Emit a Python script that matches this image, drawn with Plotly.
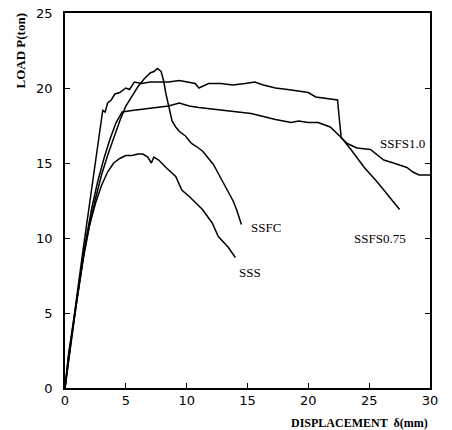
import plotly.graph_objects as go

# SSS
sss_x = [0, 0.3, 0.7, 1.2, 1.6, 2.0, 2.5, 3.0, 3.5, 4.0, 4.5, 5.0, 5.5, 6.0, 6.4, 6.8, 7.1, 7.3, 7.7, 8.3, 9.1, 9.6, 10.3, 11.3, 12.1, 12.6, 13.4, 14.0]
sss_y = [0, 2.2, 4.3, 7.0, 9.2, 10.8, 12.3, 13.5, 14.4, 15.0, 15.3, 15.5, 15.5, 15.6, 15.6, 15.4, 15.0, 15.4, 15.2, 14.7, 14.1, 13.2, 12.7, 11.9, 11.0, 10.1, 9.4, 8.7]

# SSFC
ssfc_x = [0, 0.5, 1.0, 1.5, 2.0, 2.5, 3.0, 3.5, 4.0, 4.5, 5.0, 5.5, 6.0, 6.5, 7.0, 7.3, 7.6, 7.9, 8.1, 8.3, 8.6, 8.8, 9.1, 9.4, 9.9, 10.4, 10.8, 11.3, 11.8, 12.2, 12.6, 13.0, 13.4, 13.8, 14.1, 14.5]
ssfc_y = [0, 3.0, 6.0, 8.6, 10.8, 12.6, 14.2, 15.5, 16.7, 17.8, 18.8, 19.5, 20.1, 20.6, 21.0, 21.1, 21.3, 21.1, 20.5, 19.6, 18.5, 17.8, 17.4, 17.1, 16.8, 16.3, 16.1, 15.8, 15.3, 14.9, 14.3, 13.7, 13.0, 12.5, 11.9, 10.9]

# SSFS0.75
s075_x = [0, 0.3, 0.7, 1.2, 1.7, 2.2, 2.7, 3.2, 3.7, 4.2, 4.7, 5.5, 6.5, 7.7, 8.5, 9.4, 10.2, 11.0, 12.0, 13.2, 14.3, 15.3, 16.3, 17.3, 18.6, 19.2, 20.0, 20.8, 21.8, 22.7, 23.5, 24.6, 25.7, 26.7, 27.5]
s075_y = [0, 2.3, 4.5, 7.3, 9.8, 12.0, 13.8, 15.3, 16.6, 17.7, 18.4, 18.5, 18.6, 18.7, 18.8, 19.0, 18.8, 18.7, 18.6, 18.5, 18.4, 18.3, 18.1, 17.9, 17.7, 17.8, 17.7, 17.7, 17.4, 16.7, 15.9, 14.7, 13.7, 12.7, 11.9]

# SSFS1.0
s10_x = [0, 0.3, 0.6, 1.0, 1.5, 2.0, 2.5, 3.0, 3.1, 3.3, 3.5, 3.8, 4.1, 4.5, 5.0, 5.3, 5.7, 6.3, 7.0, 7.7, 8.5, 9.4, 10.2, 10.7, 11.0, 11.8, 12.8, 13.8, 14.8, 15.6, 16.3, 17.3, 18.3, 19.1, 20.0, 20.6, 21.5, 22.4, 22.6, 22.7, 23.2, 24.0, 25.1, 25.6, 26.2, 27.0, 28.1, 28.6, 29.1, 30.0]
s10_y = [0, 2.0, 4.0, 6.3, 9.3, 12.2, 15.0, 17.8, 18.5, 18.4, 19.0, 19.2, 19.6, 19.7, 20.0, 19.9, 20.4, 20.3, 20.4, 20.4, 20.4, 20.5, 20.4, 20.3, 20.0, 20.3, 20.3, 20.2, 20.3, 20.4, 20.2, 20.0, 19.9, 19.8, 19.7, 19.4, 19.3, 19.2, 17.5, 16.7, 16.3, 16.0, 15.9, 15.6, 15.2, 15.0, 14.7, 14.4, 14.2, 14.2]

labels = ["SSS", "SSFC", "SSFS0.75", "SSFS1.0"]
label_x = [14.1, 15.1, 23.6, 25.7]
label_y = [7.7, 10.7, 10.0, 16.3]

x_ticks = [0, 5, 10, 15, 20, 25, 30]
y_ticks = [0, 5, 10, 15, 20, 25]

fig = go.Figure()
for xs, ys in [(sss_x, sss_y), (ssfc_x, ssfc_y), (s075_x, s075_y), (s10_x, s10_y)]:
    fig.add_trace(go.Scatter(x=xs, y=ys, mode="lines",
                             line=dict(color="black", width=1.5), showlegend=False))

for t, lx, ly in zip(labels, label_x, label_y):
    fig.add_annotation(x=lx, y=ly, text=t, showarrow=False, xanchor="left", yanchor="middle",
                       font=dict(family="Liberation Serif", size=13, color="black"))

fig.add_annotation(xref="paper", yref="paper", x=1.0, y=-0.093, text="<b>DISPLACEMENT  δ(mm)</b>",
                   showarrow=False, xanchor="right", yanchor="middle",
                   font=dict(family="Liberation Serif", size=12, color="black"))
fig.add_annotation(xref="paper", yref="paper", x=-0.123, y=1.003, text="<b>LOAD P(ton)</b>",
                   showarrow=False, xanchor="center", yanchor="top", textangle=-90,
                   font=dict(family="Liberation Serif", size=13, color="black"))

fig.update_xaxes(range=[0, 30], tickvals=x_ticks, ticks="inside", ticklen=5, tickcolor="black",
                 showline=True, linecolor="black", linewidth=1.5, mirror=True, showgrid=False,
                 zeroline=False, automargin=False,
                 tickfont=dict(family="DejaVu Sans", size=13, color="black"))
fig.update_yaxes(range=[0, 25], tickvals=y_ticks, ticks="inside", ticklen=5, tickcolor="black",
                 showline=True, linecolor="black", linewidth=1.5, mirror="ticks", showgrid=False,
                 zeroline=False, ticklabelstandoff=8, automargin=False,
                 tickfont=dict(family="DejaVu Sans", size=13, color="black"))

fig.update_layout(width=452, height=430, margin=dict(l=65, r=22, t=13, b=42, autoexpand=False),
                  plot_bgcolor="white", paper_bgcolor="white")

fig.write_html("out.html", config={"displayModeBar": False},
               post_script="document.body.style.margin='0';document.body.style.overflow='hidden';")
